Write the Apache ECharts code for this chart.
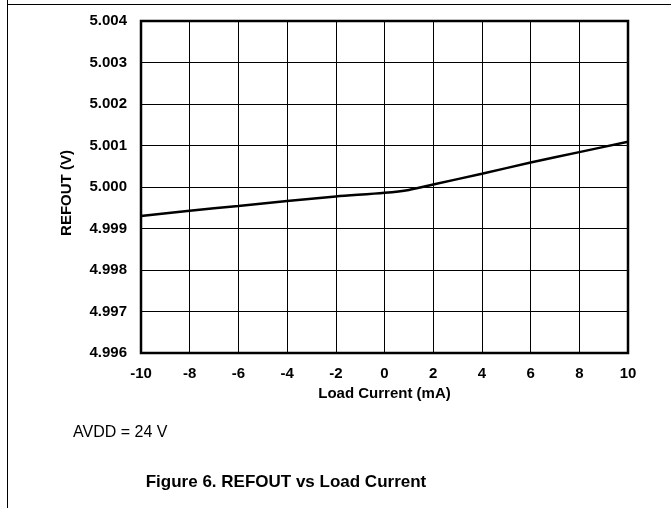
<!DOCTYPE html>
<html><head><meta charset="utf-8">
<script src="https://cdn.jsdelivr.net/npm/echarts@6/dist/echarts.min.js"></script>
<style>html,body{margin:0;padding:0;background:#fff}#c{width:671px;height:508px}</style>
</head><body><div id="c"></div>
<script>
const loadCurrent = [-10, -8, -6, -4, -2, 0, 1, 2, 4, 6, 8, 10];
const refout = [4.99930, 4.99943, 4.99954, 4.99966, 4.99977, 4.99986, 4.99993, 5.00006, 5.00032, 5.00059, 5.00084, 5.00109];
const xTicks = [-10, -8, -6, -4, -2, 0, 2, 4, 6, 8, 10];
const yTicks = [4.996, 4.997, 4.998, 4.999, 5.000, 5.001, 5.002, 5.003, 5.004];
const xName = 'Load Current (mA)';
const yName = 'REFOUT (V)';
const noteText = 'AVDD = 24 V';
const captionText = 'Figure 6. REFOUT vs Load Current';

const chart = echarts.init(document.getElementById('c'), null, {renderer: 'canvas'});
const font = 'Liberation Sans, Arial, sans-serif';
chart.setOption({
  animation: false,
  backgroundColor: '#fff',
  grid: {left: 141, top: 21, width: 487, height: 332, containLabel: false},
  xAxis: {
    type: 'value', min: -10, max: 10, interval: 2,
    name: xName, nameLocation: 'middle', nameGap: 30,
    nameTextStyle: {fontFamily: font, fontWeight: 'bold', fontSize: 15, color: '#000'},
    axisLine: {show: false},
    axisTick: {show: false},
    axisLabel: {fontFamily: font, fontWeight: 'bold', fontSize: 15, color: '#000', margin: 13,
      formatter: v => xTicks.includes(v) ? String(v) : ''},
    splitLine: {show: true, lineStyle: {color: '#000', width: 1}}
  },
  yAxis: {
    type: 'value', min: 4.996, max: 5.004, interval: 0.001,
    axisLine: {show: false},
    axisTick: {show: false},
    axisLabel: {fontFamily: font, fontWeight: 'bold', fontSize: 15, color: '#000', margin: 14,
      formatter: v => {
        const t = yTicks.find(y => Math.abs(y - v) < 1e-7);
        return t !== undefined ? t.toFixed(3) : '';
      }},
    splitLine: {show: true, lineStyle: {color: '#000', width: 1}}
  },
  series: [{
    type: 'line',
    data: loadCurrent.map((x, i) => [x, refout[i]]),
    showSymbol: false,
    smooth: 0.3,
    lineStyle: {color: '#000', width: 2.5},
    z: 5
  }],
  graphic: [
    {type: 'line', shape: {x1: 7.5, y1: 0, x2: 7.5, y2: 508}, style: {stroke: '#000', lineWidth: 1}},
    {type: 'line', shape: {x1: 7, y1: 4.5, x2: 671, y2: 4.5}, style: {stroke: '#000', lineWidth: 1}},
    {type: 'rect', shape: {x: 141, y: 21, width: 487, height: 332}, style: {fill: null, stroke: '#000', lineWidth: 2.5}, z: 10},
    {type: 'text', x: 67, y: 193, rotation: Math.PI / 2,
      style: {text: yName, font: 'bold 15px Liberation Sans, Arial, sans-serif', fill: '#000', align: 'center', verticalAlign: 'middle'}},
    {type: 'text', x: 73, y: 433, style: {text: noteText, font: '16px Liberation Sans, Arial, sans-serif', fill: '#000', verticalAlign: 'middle'}},
    {type: 'text', x: 286, y: 482, style: {text: captionText, font: 'bold 17px Liberation Sans, Arial, sans-serif', fill: '#000', align: 'center', verticalAlign: 'middle'}}
  ]
});
</script></body></html>
